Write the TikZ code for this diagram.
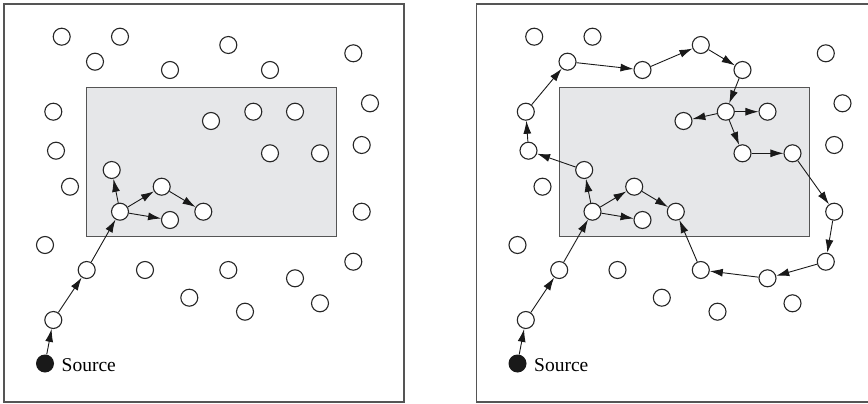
\documentclass[tikz,border=0pt]{standalone}
\usepackage{fontspec}
\setmainfont{Liberation Serif}
\usetikzlibrary{arrows.meta}
\definecolor{regiongray}{RGB}{230,231,233}
\definecolor{linegray}{RGB}{85,85,85}
\tikzset{
  dot/.style={circle,draw=black!85,line width=1.1pt,fill=white,minimum size=17pt,inner sep=0pt},
  srcdot/.style={circle,fill=black!90,minimum size=18pt,inner sep=0pt},
  link/.style={-{Latex[length=13pt,width=8pt]},line width=0.9pt,black!90},
  frame/.style={draw=linegray,line width=1.2pt},
  region/.style={draw=linegray,line width=1.3pt,fill=regiongray},
  srclabel/.style={anchor=base west,inner sep=0pt,font=\fontsize{19.5}{22}\selectfont}
}
\begin{document}
\begin{tikzpicture}[x=1pt,y=-1pt]
\useasboundingbox (0,0) rectangle (868,404);
\foreach \p/\o in {L/0,R/472.5}{
  \begin{scope}[xshift=\o pt]
    \draw[frame] (4,4) rectangle (404,402);
    \draw[region] (86.7,87.3) rectangle (336.7,236.7);
    \foreach \n/\x/\y in {1/61.7/36.7, 2/120/36.7, 3/95/61.7, 4/170/70, 5/228.3/45,
      6/270/70, 7/353.3/53.3, 8/53.3/111.7, 9/211/121, 10/253.3/111.7,
      11/295/111.7, 12/370/103.3, 13/56/150.7, 14/270/153.3, 15/320/153.3,
      16/361.7/145, 17/70/186.7, 18/111.7/170, 19/161.7/186.7, 20/120/211.7,
      21/203.3/211.7, 22/170/220, 23/361.7/211.7, 24/45/245, 25/86.7/270,
      26/145/270, 27/228.3/270, 28/295/278.3, 29/353.3/261.7, 30/189.3/297.7,
      31/245/311.7, 32/320/303.3, 33/53.3/320}
      \node[dot] (\p\n) at (\x,\y) {};
    \node[srcdot] (\p s) at (45,363.5) {};
    \node[srclabel] (\p t) at (61.5,371) {Source};
  \end{scope}
}
\foreach \p in {L,R}{
  \foreach \a/\b in {s/33, 33/25, 25/20, 20/18, 20/19, 20/22, 19/21}
    \draw[link] (\p\a) -- (\p\b);
}
\foreach \a/\b in {18/13, 13/8, 8/3, 3/4, 4/5, 5/6, 6/10, 10/9, 10/11, 10/14,
  14/15, 15/23, 23/29, 29/28, 28/27, 27/21}
  \draw[link] (R\a) -- (R\b);
\end{tikzpicture}
\end{document}
